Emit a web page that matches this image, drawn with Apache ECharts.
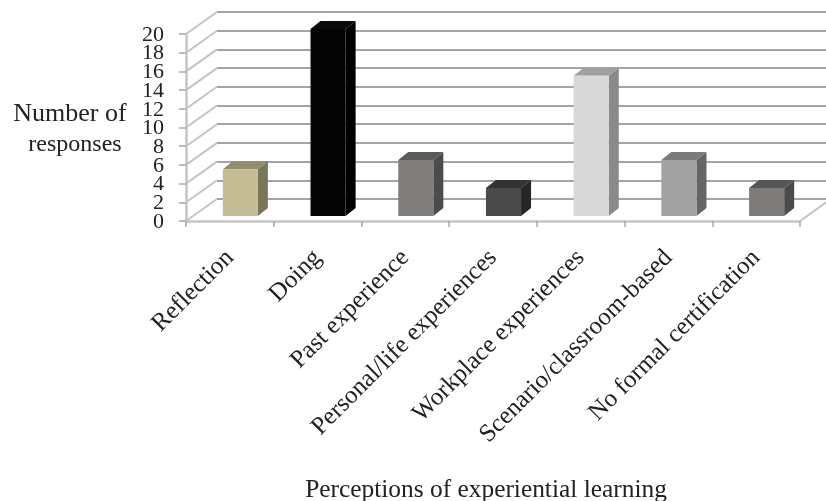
<!DOCTYPE html>
<html><head><meta charset="utf-8">
<script src="https://cdn.jsdelivr.net/npm/echarts@6/dist/echarts.min.js"></script>
<style>html,body{margin:0;padding:0;background:#fff}#c{width:826px;height:501px;filter:blur(0.6px)}</style>
</head><body><div id="c"></div>
<script>
const categories = ['Reflection','Doing','Past experience','Personal/life experiences','Workplace experiences','Scenario/classroom-based','No formal certification'];
const values = [5,20,6,3,15,6,3];
const frontColors = ['#c4bc94','#050505','#7f7e7c','#4a4a4a','#d8d8d8','#a2a2a2','#7d7c7a'];
const sideColors = ['#7a7758','#000000','#4a4b4a','#262726','#8a8a8a','#656564','#4a4b4a'];
const topColors = ['#918c6c','#0a0a0a','#5a5a5a','#333333','#a0a0a0','#7a7a78','#565656'];
const yTicks = [0,2,4,6,8,10,12,14,16,18,20];
const fontFamily = '"Liberation Serif", serif';
const textColor = '#222222';
const gridColor = '#a4a4a4';
const wallColor = '#c4c4c4';

const L = 186, R = 800, T = 34, B = 221;      // front plane
const DX = 31, DY = 22;                       // depth of the floor
const barW = 0.4, barDX = 10, barDY = 8, lift = 5, shift = 10.5;

function renderBar(params, api) {
  const i = api.value(0), v = api.value(1);
  const base = api.coord([i, 0]), top = api.coord([i, v]);
  const w = api.size([1, 0])[0] * barW;
  const x0 = base[0] + shift - w / 2, x1 = x0 + w;
  const y0 = base[1] - lift, y1 = top[1] - lift + 0;
  return {type: 'group', children: [
    {type:'polygon', shape:{points:[[x1,y0],[x1+barDX,y0-barDY],[x1+barDX,y1-barDY],[x1,y1]]}, style:{fill:sideColors[i]}},
    {type:'polygon', shape:{points:[[x0,y1],[x1,y1],[x1+barDX,y1-barDY],[x0+barDX,y1-barDY]]}, style:{fill:topColors[i]}},
    {type:'rect', shape:{x:x0,y:y1,width:w,height:y0-y1}, style:{fill:frontColors[i]}}
  ]};
}
function renderWallLine(params, api) {
  const p = api.coord([0, api.value(0)]);
  const x = p[0] - api.size([1,0])[0] / 2;
  return {type:'line', shape:{x1:x,y1:p[1],x2:x+DX,y2:p[1]-DY}, style:{stroke:wallColor,lineWidth:2}};
}
function renderFloor(params, api) {
  const p = api.coord([6, 0]);
  const x = p[0] + api.size([1,0])[0] / 2;
  return {type:'line', shape:{x1:x,y1:p[1],x2:x+DX,y2:p[1]-DY}, style:{stroke:wallColor,lineWidth:2}};
}
function renderTickLabel(params, api) {
  const v = api.value(0);
  const p = api.coord([0, v]);
  const x = p[0] - api.size([1,0])[0] / 2;
  return {type:'text', x:x-22, y:p[1]+1, style:{text:String(v),align:'right',verticalAlign:'middle',font:'22px '+fontFamily,fill:textColor}};
}

const chart = echarts.init(document.getElementById('c'), null, {renderer:'canvas'});
chart.setOption({
  animation:false,
  backgroundColor:'#fff',
  grid:[
    {left:L,right:826-R,top:T,bottom:501-B,outerBoundsMode:'none'},
    {left:L+DX,right:826-R-DX,top:T-DY,bottom:501-B+DY,outerBoundsMode:'none'}
  ],
  xAxis:[
    {type:'category',gridIndex:0,data:categories,
     axisLine:{show:true,lineStyle:{color:wallColor,width:2.5}},
     axisTick:{show:true,alignWithLabel:false,length:6,lineStyle:{color:'#a8a8a8',width:1.5}},
     axisLabel:{interval:0,rotate:45,fontFamily,fontSize:25,color:textColor,margin:33},
     name:'Perceptions of experiential learning',nameLocation:'middle',nameGap:257,
     nameTextStyle:{fontFamily,fontSize:25.4,color:textColor,padding:[0,14,0,0]}},
    {type:'category',gridIndex:1,data:categories,show:false}
  ],
  yAxis:[
    {type:'value',gridIndex:0,min:0,max:20,interval:2,
     axisLine:{show:true,lineStyle:{color:wallColor,width:2.5}},
     axisTick:{show:true,length:7,lineStyle:{color:'#a8a8a8',width:1.5}},
     axisLabel:{show:false},
     splitLine:{show:false},
     name:'{a|Number of}\n{b|responses}',nameLocation:'middle',nameRotate:0,nameGap:116,
     nameTextStyle:{align:'center',rich:{
       a:{fontFamily,fontSize:26,color:textColor,lineHeight:34,padding:[8,0,0,0]},
       b:{fontFamily,fontSize:24,color:textColor,lineHeight:34,padding:[0,0,0,10]}
     }}},
    {type:'value',gridIndex:1,min:0,max:20,interval:2,
     axisLine:{show:false},axisTick:{show:false},axisLabel:{show:false},
     splitLine:{show:true,lineStyle:{color:gridColor,width:2}}}
  ],
  series:[
    {type:'custom',xAxisIndex:0,yAxisIndex:0,data:yTicks.map(v=>[v]),renderItem:renderWallLine,encode:{y:0},silent:true,z:1},
    {type:'custom',xAxisIndex:0,yAxisIndex:0,data:[[0]],renderItem:renderFloor,silent:true,z:1},
    {type:'custom',xAxisIndex:0,yAxisIndex:0,data:yTicks.map(v=>[v]),renderItem:renderTickLabel,encode:{y:0},silent:true,z:6,clip:false},
    {type:'custom',xAxisIndex:0,yAxisIndex:0,data:values.map((v,i)=>[i,v]),renderItem:renderBar,encode:{x:0,y:1},z:5}
  ]
});
</script></body></html>
